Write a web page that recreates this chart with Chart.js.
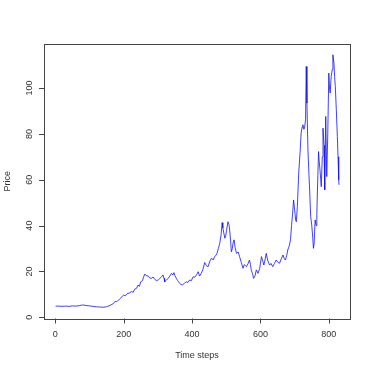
<!DOCTYPE html>
<html>
<head>
<meta charset="UTF-8">
<script src="https://cdn.jsdelivr.net/npm/chart.js"></script>
<style>
  body { margin: 0; background: #fff; }
  canvas { display: block; }
</style>
</head>
<body>
<canvas id="priceChart" width="374" height="374"></canvas>
<script>
// time steps and prices
const steps = [1, 10, 20, 30, 40, 50, 60, 70, 80, 90, 100, 110, 120, 130, 140, 150, 160, 170, 175, 180,
  188, 195, 200, 205, 210, 218, 222, 228, 232, 238, 242, 246, 250, 255, 258, 262, 266, 272, 276, 281,
  286, 291, 296, 301, 306, 311, 315, 318, 320, 325, 330, 335, 340, 344, 347, 350, 354, 358, 364, 368,
  372, 378, 384, 388, 393, 398, 403, 408, 413, 418, 422, 427, 432, 437, 442, 447, 452, 457, 462, 466,
  470, 473, 477, 481, 485, 488, 490, 493, 496, 498, 501, 505, 508, 510, 513, 515, 518, 520, 523, 526,
  530, 535, 539, 544, 549, 553, 559, 564, 568, 571, 573, 577, 580, 584, 588, 593, 598, 603, 607, 610,
  614, 617, 621, 627, 631, 636, 641, 646, 651, 656, 661, 666, 670, 673, 677, 680, 684, 688, 691, 694,
  697, 700, 703, 705, 708, 712, 716, 719, 722, 724, 727, 729, 732, 734, 736, 739, 742, 744, 747, 750,
  753, 755, 757, 760, 763, 765, 768, 770, 772, 775, 778, 781, 783, 786, 788, 791, 794, 797, 800, 802,
  804, 807, 810, 812, 815, 817, 819, 822, 825, 827, 829, 830];
const prices = [4.9, 4.9, 4.8, 4.9, 4.8, 5.0, 4.9, 5.1, 5.4, 5.2, 5.0, 4.8, 4.6, 4.5, 4.4, 4.6, 5.2, 6.0, 7.0, 6.8,
  8.0, 9.0, 9.7, 9.4, 10.3, 10.7, 11.2, 11.0, 12.3, 12.7, 14.1, 13.5, 15.5, 16.0, 17.5, 18.9, 18.2, 18.0, 17.2, 17.0,
  17.6, 16.6, 16.0, 16.3, 17.0, 17.7, 18.5, 17.0, 15.5, 16.2, 17.0, 18.0, 19.2, 18.5, 19.5, 18.2, 17.0, 16.0, 14.8, 14.3,
  14.1, 15.0, 15.5, 15.2, 16.3, 16.0, 17.7, 17.5, 18.5, 19.9, 18.0, 19.2, 21.0, 23.9, 22.5, 22.1, 24.5, 25.8, 25.0, 26.5,
  27.0, 27.9, 30.0, 32.3, 36.0, 41.3, 39.0, 36.7, 34.5, 35.2, 38.0, 41.7, 40.5, 38.1, 33.0, 28.6, 30.0, 32.5, 33.8, 30.5,
  27.9, 28.5, 26.5, 24.0, 21.4, 23.0, 22.1, 23.5, 25.0, 23.0, 20.7, 19.0, 17.0, 18.0, 20.7, 19.2, 21.4, 26.5, 24.5, 22.8,
  25.5, 27.9, 25.0, 22.8, 23.5, 22.1, 23.5, 25.0, 24.0, 23.6, 25.5, 27.2, 25.5, 25.0, 27.0, 29.4, 31.0, 33.8, 40.0, 45.0,
  51.2, 47.0, 42.5, 41.7, 48.3, 62.9, 72.0, 80.3, 83.0, 84.0, 82.0, 82.5, 86.2, 109.4, 93.4, 73.1, 62.0, 55.6, 43.9, 40.3,
  35.0, 30.1, 32.0, 42.5, 40.0, 45.4, 62.0, 72.3, 68.0, 62.9, 57.0, 70.0, 82.5, 75.0, 55.6, 87.6, 61.4, 80.0, 106.5, 100.0,
  97.8, 105.1, 108.0, 114.5, 110.9, 105.0, 100.7, 90.5, 78.9, 70.0, 60.0, 57.8];

const xTicks = [0, 200, 400, 600, 800];
const yTicks = [0, 20, 40, 60, 80, 100];

const points = steps.map((s, i) => ({ x: s, y: prices[i] }));

// draws the R style box, tick marks and labels
const rAxes = {
  id: 'rAxes',
  afterDraw(chart) {
    const ctx = chart.ctx;
    const a = chart.chartArea;
    const xs = chart.scales.x;
    const ys = chart.scales.y;
    ctx.save();
    ctx.strokeStyle = '#444';
    ctx.lineWidth = 1;
    ctx.strokeRect(Math.round(a.left) + 0.5, Math.round(a.top) + 0.5,
      Math.round(a.right - a.left), Math.round(a.bottom - a.top));

    ctx.fillStyle = '#333';
    ctx.font = '9px "Liberation Sans", Arial, sans-serif';

    // x axis
    ctx.textAlign = 'center';
    ctx.textBaseline = 'middle';
    ctx.beginPath();
    xTicks.forEach(v => {
      const px = Math.round(xs.getPixelForValue(v)) + 0.5;
      ctx.moveTo(px, a.bottom);
      ctx.lineTo(px, a.bottom + 5);
    });
    ctx.stroke();
    xTicks.forEach(v => ctx.fillText(String(v), xs.getPixelForValue(v), 334.5));

    // y axis, labels turned like in R
    ctx.beginPath();
    yTicks.forEach(v => {
      const py = Math.round(ys.getPixelForValue(v)) + 0.5;
      ctx.moveTo(a.left, py);
      ctx.lineTo(a.left - 5, py);
    });
    ctx.stroke();
    yTicks.forEach(v => {
      ctx.save();
      ctx.translate(30, ys.getPixelForValue(v));
      ctx.rotate(-Math.PI / 2);
      ctx.fillText(String(v), 0, 0);
      ctx.restore();
    });

    // axis titles
    ctx.fillText('Time steps', (a.left + a.right) / 2, 356);
    ctx.save();
    ctx.translate(8, (a.top + a.bottom) / 2);
    ctx.rotate(-Math.PI / 2);
    ctx.fillText('Price', 0, 0);
    ctx.restore();
    ctx.restore();
  }
};

new Chart(document.getElementById('priceChart'), {
  type: 'line',
  data: {
    datasets: [{
      data: points,
      borderColor: 'rgba(20, 20, 230, 0.8)',
      borderWidth: 1,
      pointRadius: 0,
      tension: 0,
      fill: false
    }]
  },
  options: {
    responsive: false,
    animation: false,
    layout: { padding: { left: 44, top: 44, right: 24, bottom: 55.5 } },
    plugins: { legend: { display: false }, tooltip: { enabled: false } },
    scales: {
      x: { type: 'linear', min: -33, max: 862, display: false },
      y: { type: 'linear', min: -0.5, max: 119.2, display: false }
    }
  },
  plugins: [rAxes]
});
</script>
</body>
</html>
